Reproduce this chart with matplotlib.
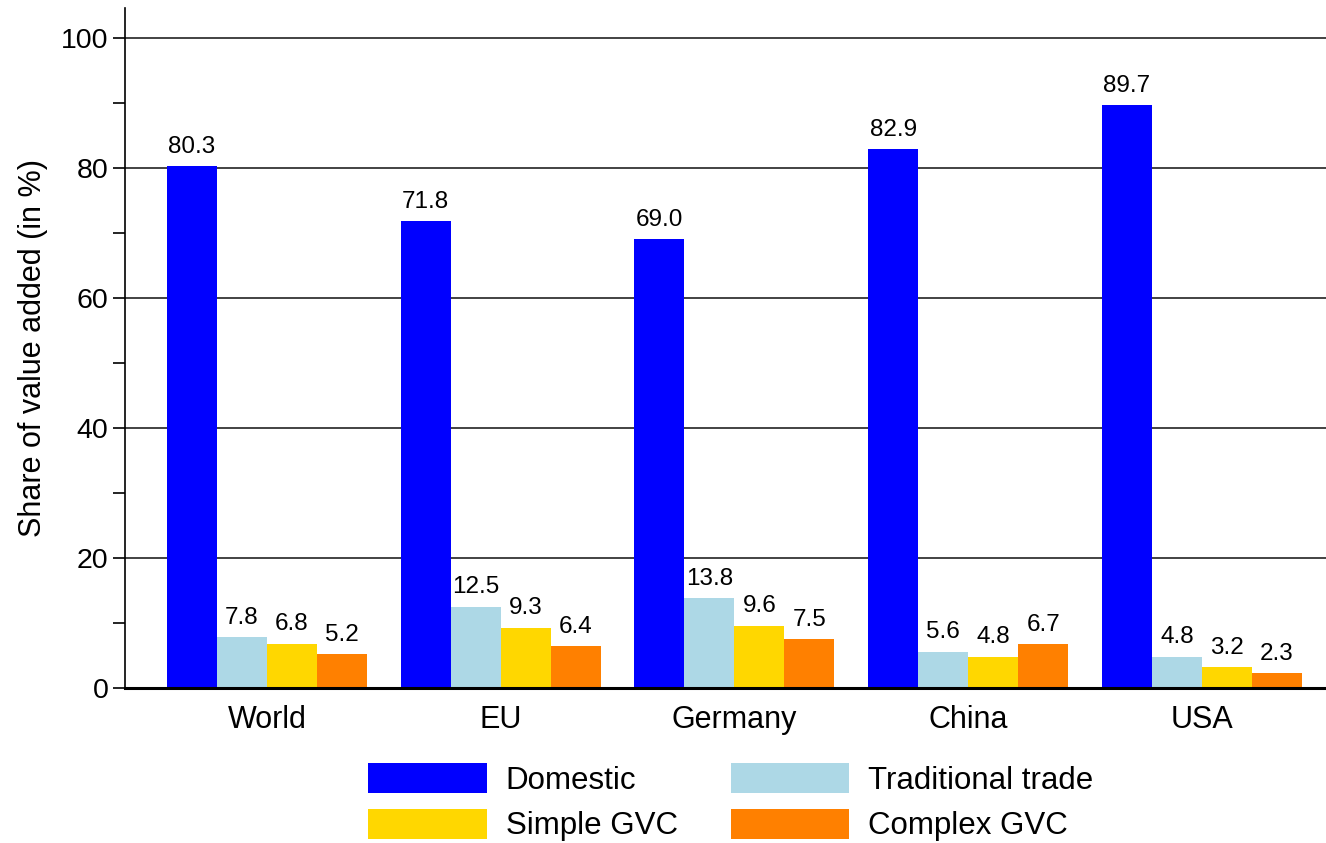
import matplotlib
matplotlib.use("Agg")
import matplotlib.pyplot as plt
import numpy as np
from matplotlib.ticker import MultipleLocator

plt.rcParams['font.family'] = ['Liberation Sans', 'DejaVu Sans']

categories = ["World", "EU", "Germany", "China", "USA"]
series_names = ["Domestic", "Traditional trade", "Simple GVC", "Complex GVC"]
domestic = [80.3, 71.8, 69.0, 82.9, 89.7]
traditional = [7.8, 12.5, 13.8, 5.6, 4.8]
simple_gvc = [6.8, 9.3, 9.6, 4.8, 3.2]
complex_gvc = [5.2, 6.4, 7.5, 6.7, 2.3]
colors = ["#0000FF", "#ADD8E6", "#FFD700", "#FF8000"]

W, H = 1326, 843
fig = plt.figure(figsize=(W / 100, H / 100), dpi=100)
ax = fig.add_axes([125 / W, 1 - 688 / H, (1326 - 125) / W, (688 - 8) / H])

x = np.arange(len(categories))
bw = 0.214
series = [domestic, traditional, simple_gvc, complex_gvc]
handles = []
for i, (vals, name, c) in enumerate(zip(series, series_names, colors)):
    pos = x + (i - 1.5) * bw
    b = ax.bar(pos, vals, width=bw, color=c, label=name, zorder=3)
    handles.append(b)
    for p, v in zip(pos, vals):
        ax.annotate(f"{v:.1f}", (p, v), xytext=(0, 6), textcoords="offset points",
                    ha="center", va="bottom", fontsize=17.5, zorder=4)

ax.set_xlim(-0.6075, 4.531)
ax.set_ylim(0, 104.6)
ax.yaxis.set_major_locator(MultipleLocator(20))
ax.yaxis.set_minor_locator(MultipleLocator(10))
ax.set_yticks([0, 20, 40, 60, 80, 100])
ax.grid(axis="y", which="major", color="#222222", linewidth=1.2, zorder=1)
ax.tick_params(axis="y", which="both", direction="out", length=9, width=1.2,
               labelsize=20.5, pad=3)
ax.set_xticks(x)
ax.set_xticklabels(categories, fontsize=22)
ax.tick_params(axis="x", length=0, pad=12)
for s in ["top", "right"]:
    ax.spines[s].set_visible(False)
ax.spines["left"].set_linewidth(1.2)
ax.spines["bottom"].set_linewidth(2.2)
ax.spines["bottom"].set_zorder(5)
ax.set_ylabel("Share of value added (in %)", fontsize=22)
ax.yaxis.set_label_coords(-77 / (1326 - 125), 0.5)

# legend laid out row-wise: Domestic, Traditional trade / Simple GVC, Complex GVC
order = [0, 2, 1, 3]
fig.legend(handles=[handles[i] for i in order],
           labels=[series_names[i] for i in order], ncol=2, frameon=False,
           loc="upper left", bbox_to_anchor=(368 / W, 1 - 763 / H),
           borderaxespad=0, borderpad=0, fontsize=22.5,
           handlelength=3.8, handleheight=1.1, handletextpad=0.6,
           columnspacing=1.7, labelspacing=0.42)

fig.savefig("out.png", dpi=100)
